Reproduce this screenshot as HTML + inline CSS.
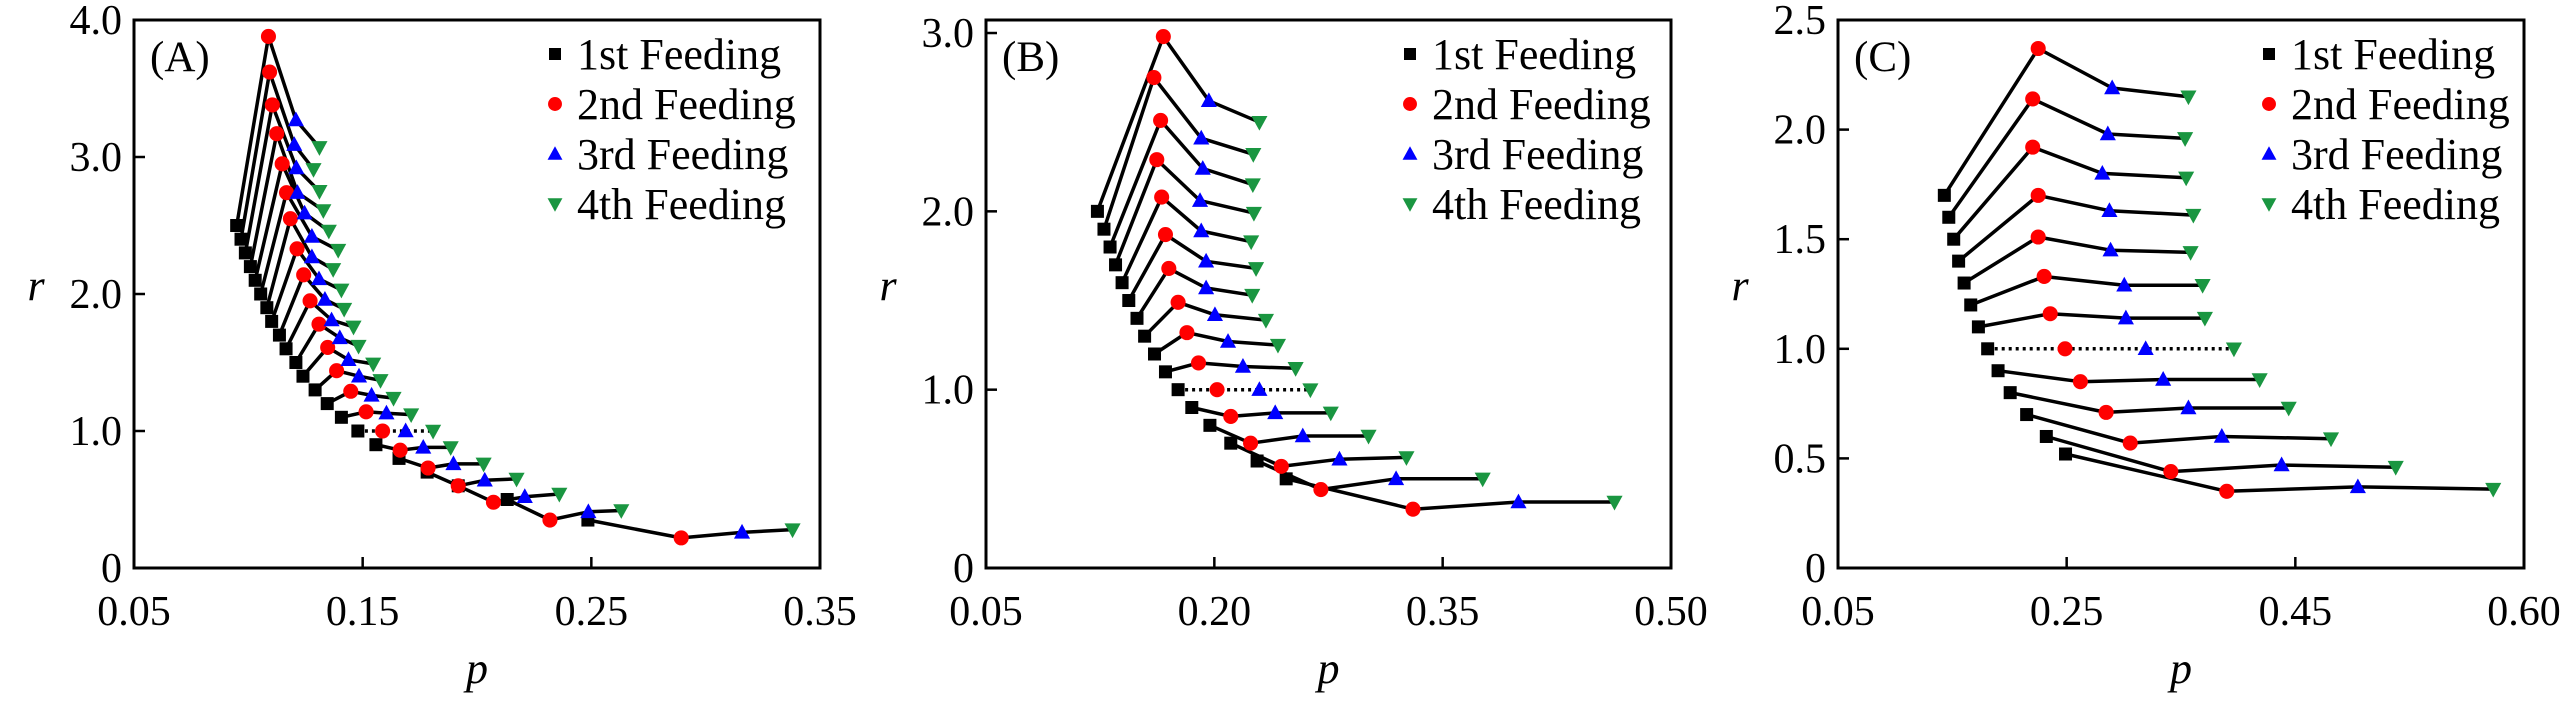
<!DOCTYPE html>
<html><head><meta charset="utf-8"><style>
html,body{margin:0;padding:0;background:#fff;}
svg{display:block;}
svg text{font-family:"Liberation Serif","Times New Roman","DejaVu Serif",serif;}
</style></head><body>
<svg id="chart" width="2567" height="709" viewBox="0 0 2567 709" xmlns="http://www.w3.org/2000/svg" font-family="Liberation Serif, DejaVu Serif, serif"></svg>
<script>
// ---------- Panel A data ----------
const A_p1 = [0.0949,0.0968,0.0987,0.1009,0.1030,0.1054,0.1081,0.1102,0.1136,0.1165,0.1208,0.1239,0.1292,0.1345,0.1407,0.1479,0.1558,0.1659,0.1782,0.1918,0.2132,0.2485];
const A_r1 = [2.5,2.4,2.3,2.2,2.1,2.0,1.9,1.8,1.7,1.6,1.5,1.4,1.3,1.2,1.1,1.0,0.9,0.8,0.7,0.6,0.5,0.35];
const A_p2 = [0.1088,0.1093,0.1105,0.1124,0.1148,0.1167,0.1184,0.1213,0.1242,0.1270,0.1309,0.1347,0.1386,0.1448,0.1515,0.1587,0.1664,0.1786,0.1918,0.2072,0.2319,0.2893];
const A_r2 = [3.88,3.62,3.38,3.17,2.95,2.74,2.55,2.33,2.14,1.95,1.78,1.61,1.44,1.29,1.14,1.0,0.86,0.73,0.60,0.48,0.35,0.22];
const A_p3 = [0.1208,0.1201,0.1210,0.1215,0.1246,0.1278,0.1278,0.1309,0.1335,0.1364,0.1400,0.1438,0.1484,0.1539,0.1604,0.1688,0.1765,0.1897,0.2034,0.2209,0.2487,0.3159];
const A_r3 = [3.27,3.09,2.92,2.74,2.59,2.42,2.27,2.11,1.96,1.81,1.68,1.52,1.40,1.26,1.13,1.0,0.88,0.76,0.64,0.52,0.41,0.26];
const A_p4 = [0.1311,0.1285,0.1311,0.1328,0.1352,0.1393,0.1371,0.1407,0.1419,0.1460,0.1482,0.1546,0.1578,0.1635,0.1712,0.1808,0.1885,0.2029,0.2173,0.2360,0.2631,0.3380];
const A_r4 = [3.07,2.91,2.75,2.61,2.46,2.32,2.18,2.03,1.89,1.76,1.62,1.49,1.37,1.24,1.12,1.0,0.88,0.76,0.65,0.54,0.42,0.28];
const A_xticks = [0.05,0.15,0.25,0.35];
const A_xlabels = ["0.05","0.15","0.25","0.35"];
const A_yticks = [0,1,2,3,4];
const A_ylabels = ["0","1.0","2.0","3.0","4.0"];
// ---------- Panel B data ----------
const B_p1 = [0.1232,0.1275,0.1315,0.1351,0.1394,0.1438,0.1492,0.1542,0.1607,0.1679,0.1762,0.1852,0.1971,0.2108,0.2281,0.2472];
const B_r1 = [2.0,1.9,1.8,1.7,1.6,1.5,1.4,1.3,1.2,1.1,1.0,0.9,0.8,0.7,0.6,0.5];
const B_p2 = [0.1665,0.1603,0.1647,0.1622,0.1654,0.1679,0.1701,0.1762,0.1820,0.1896,0.2018,0.2108,0.2238,0.2440,0.2700,0.3305];
const B_r2 = [2.98,2.75,2.51,2.29,2.08,1.87,1.68,1.49,1.32,1.15,1.0,0.85,0.70,0.57,0.44,0.33];
const B_p3 = [0.1964,0.1914,0.1924,0.1906,0.1914,0.1946,0.1946,0.2004,0.2090,0.2188,0.2296,0.2400,0.2581,0.2822,0.3194,0.3998];
const B_r3 = [2.62,2.41,2.24,2.06,1.89,1.72,1.57,1.42,1.27,1.13,1.0,0.87,0.74,0.61,0.50,0.37];
const B_p4 = [0.2296,0.2256,0.2253,0.2260,0.2242,0.2274,0.2249,0.2339,0.2418,0.2534,0.2631,0.2765,0.3013,0.3262,0.3763,0.4629];
const B_r4 = [2.50,2.32,2.15,1.99,1.83,1.68,1.53,1.39,1.25,1.12,1.0,0.87,0.74,0.62,0.50,0.37];
const B_xticks = [0.05,0.20,0.35,0.50];
const B_xlabels = ["0.05","0.20","0.35","0.50"];
const B_yticks = [0,1,2,3];
const B_ylabels = ["0","1.0","2.0","3.0"];
// ---------- Panel C data ----------
const C_p1 = [0.1430,0.1469,0.1512,0.1555,0.1603,0.1661,0.1728,0.1809,0.1900,0.2006,0.2150,0.2322,0.2490];
const C_r1 = [1.7,1.6,1.5,1.4,1.3,1.2,1.1,1.0,0.9,0.8,0.7,0.6,0.52];
const C_p2 = [0.2251,0.2203,0.2203,0.2251,0.2251,0.2303,0.2356,0.2486,0.2620,0.2845,0.3056,0.3411,0.3900];
const C_r2 = [2.37,2.14,1.92,1.70,1.51,1.33,1.16,1.0,0.85,0.71,0.57,0.44,0.35];
const C_p3 = [0.2898,0.2860,0.2812,0.2874,0.2884,0.3004,0.3018,0.3191,0.3344,0.3565,0.3857,0.4380,0.5047];
const C_r3 = [2.19,1.98,1.80,1.63,1.45,1.29,1.14,1.0,0.86,0.73,0.60,0.47,0.37];
const C_p4 = [0.3565,0.3536,0.3545,0.3608,0.3584,0.3689,0.3709,0.3963,0.4188,0.4442,0.4812,0.5378,0.6231];
const C_r4 = [2.15,1.96,1.78,1.61,1.44,1.29,1.14,1.0,0.86,0.73,0.59,0.46,0.36];
const C_xticks = [0.05,0.25,0.45,0.65];
const C_xlabels = ["0.05","0.25","0.45","0.60"];
const C_yticks = [0,0.5,1.0,1.5,2.0,2.5];
const C_ylabels = ["0","0.5","1.0","1.5","2.0","2.5"];
const legendLabels = ["1st Feeding","2nd Feeding","3rd Feeding","4th Feeding"];

const NS = "http://www.w3.org/2000/svg";
const FONT = '"Liberation Serif", "Times New Roman", "DejaVu Serif", serif';
const svg = document.getElementById('chart');
function mk(tag, attrs, parent){
  const e = document.createElementNS(NS, tag);
  for (const k in attrs) e.setAttribute(k, attrs[k]);
  if (tag === 'text') e.style.fontFamily = FONT;
  (parent||svg).appendChild(e);
  return e;
}
const colors = ["#000000","#ff0000","#0000ff","#1a9641"];

function marker(g, kind, x, y, s){
  let el;
  if (kind === 0) {
    el = mk('rect', {x:x-s*0.5, y:y-s*0.5, width:s, height:s, fill:colors[0]}, g);
  } else if (kind === 1) {
    el = mk('circle', {cx:x, cy:y, r:s*0.58, fill:colors[1]}, g);
  } else if (kind === 2) {
    el = mk('polygon', {points:`${x},${y-s*0.65} ${x-s*0.62},${y+s*0.48} ${x+s*0.62},${y+s*0.48}`, fill:colors[2]}, g);
  } else {
    el = mk('polygon', {points:`${x},${y+s*0.65} ${x-s*0.62},${y-s*0.48} ${x+s*0.62},${y-s*0.48}`, fill:colors[3]}, g);
  }
  return el;
}

function drawPanel(cfg){
  const {id, left, right, top, bottom, xmin, xmax, ymin, ymax, xticks, xlabels, yticks, ylabels, P, R, label} = cfg;
  const xs = v => left + (v - xmin) / (xmax - xmin) * (right - left);
  const ys = v => bottom - (v - ymin) / (ymax - ymin) * (bottom - top);
  const g = mk('g', {});
  
  

  const lines = mk('g', {}, g);
  
  
  for (let i = 0; i < P[0].length; i++) {
    const pts = [0,1,2,3].map(k => `${xs(P[k][i]).toFixed(1)},${ys(R[k][i]).toFixed(1)}`).join(' ');
    const dotted = Math.abs(R[0][i] - 1.0) < 1e-6;
    const pl = mk('polyline', {points:pts, fill:'none', stroke:'#000', 'stroke-width':3.5, 'stroke-linejoin':'round', 'stroke-dasharray': dotted ? '3 4' : 'none'}, lines);
    
    
  }
  for (let k = 0; k < 4; k++) {
    const mg = mk('g', {}, g);
    
    
    for (let i = 0; i < P[k].length; i++) {
      const m = marker(mg, k, xs(P[k][i]), ys(R[k][i]), 13);
      
      
    }
  }
  const fr = mk('rect', {x:left, y:top, width:right-left, height:bottom-top, fill:'none', stroke:'#000', 'stroke-width':3}, g);
  
  
  xticks.forEach((v, i) => {
    const x = xs(v);
    if (i > 0 && i < xticks.length - 1) {
      const t = mk('line', {x1:x, x2:x, y1:bottom, y2:bottom-11, stroke:'#000', 'stroke-width':2.5}, g);
      
      
    }
    const tx = mk('text', {x:x, y:bottom+57, 'font-size':42, 'text-anchor':'middle'}, g);
    tx.textContent = xlabels[i];
    
    
  });
  yticks.forEach((v, i) => {
    const y = ys(v);
    if (i > 0 && y > top + 5) {
      const t = mk('line', {x1:left, x2:left+11, y1:y, y2:y, stroke:'#000', 'stroke-width':2.5}, g);
      
      
    }
    const ty = mk('text', {x:left-12, y:y+14, 'font-size':42, 'text-anchor':'end'}, g);
    ty.textContent = ylabels[i];
    
    
  });
  const xt = mk('text', {x:(left+right)/2, y:683, 'font-size':44, 'font-style':'italic', 'text-anchor':'middle'}, g);
  xt.textContent = 'p';
  
  
  const yt = mk('text', {x:left-98, y:300, 'font-size':44, 'font-style':'italic', 'text-anchor':'middle'}, g);
  yt.textContent = 'r';
  
  
  const pl = mk('text', {x:left+16, y:71, 'font-size':43}, g);
  pl.textContent = label;
  
  
  const lg = mk('g', {}, g);
  
  
  legendLabels.forEach((lab, k) => {
    const cy = 54 + k * 50;
    const mx = left + cfg.legX;
    const m = marker(lg, k, mx, cy, 12);
    
    
    const t = mk('text', {x:mx + 22, y:cy + 15, 'font-size':44}, lg);
    t.textContent = lab;
    
    
  });
}

drawPanel({id:'a', left:134, right:820, top:20, bottom:568, xmin:0.05, xmax:0.35, ymin:0, ymax:4.0,
  xticks:A_xticks, xlabels:A_xlabels, yticks:A_yticks, ylabels:A_ylabels,
  P:[A_p1,A_p2,A_p3,A_p4], R:[A_r1,A_r2,A_r3,A_r4], label:'(A)', legX:421});
drawPanel({id:'b', left:986, right:1671, top:20, bottom:568, xmin:0.05, xmax:0.50, ymin:0, ymax:3.073,
  xticks:B_xticks, xlabels:B_xlabels, yticks:B_yticks, ylabels:B_ylabels,
  P:[B_p1,B_p2,B_p3,B_p4], R:[B_r1,B_r2,B_r3,B_r4], label:'(B)', legX:424});
drawPanel({id:'c', left:1838, right:2524, top:20, bottom:568, xmin:0.05, xmax:0.65, ymin:0, ymax:2.5,
  xticks:C_xticks, xlabels:C_xlabels, yticks:C_yticks, ylabels:C_ylabels,
  P:[C_p1,C_p2,C_p3,C_p4], R:[C_r1,C_r2,C_r3,C_r4], label:'(C)', legX:431});
</script>
</body></html>
